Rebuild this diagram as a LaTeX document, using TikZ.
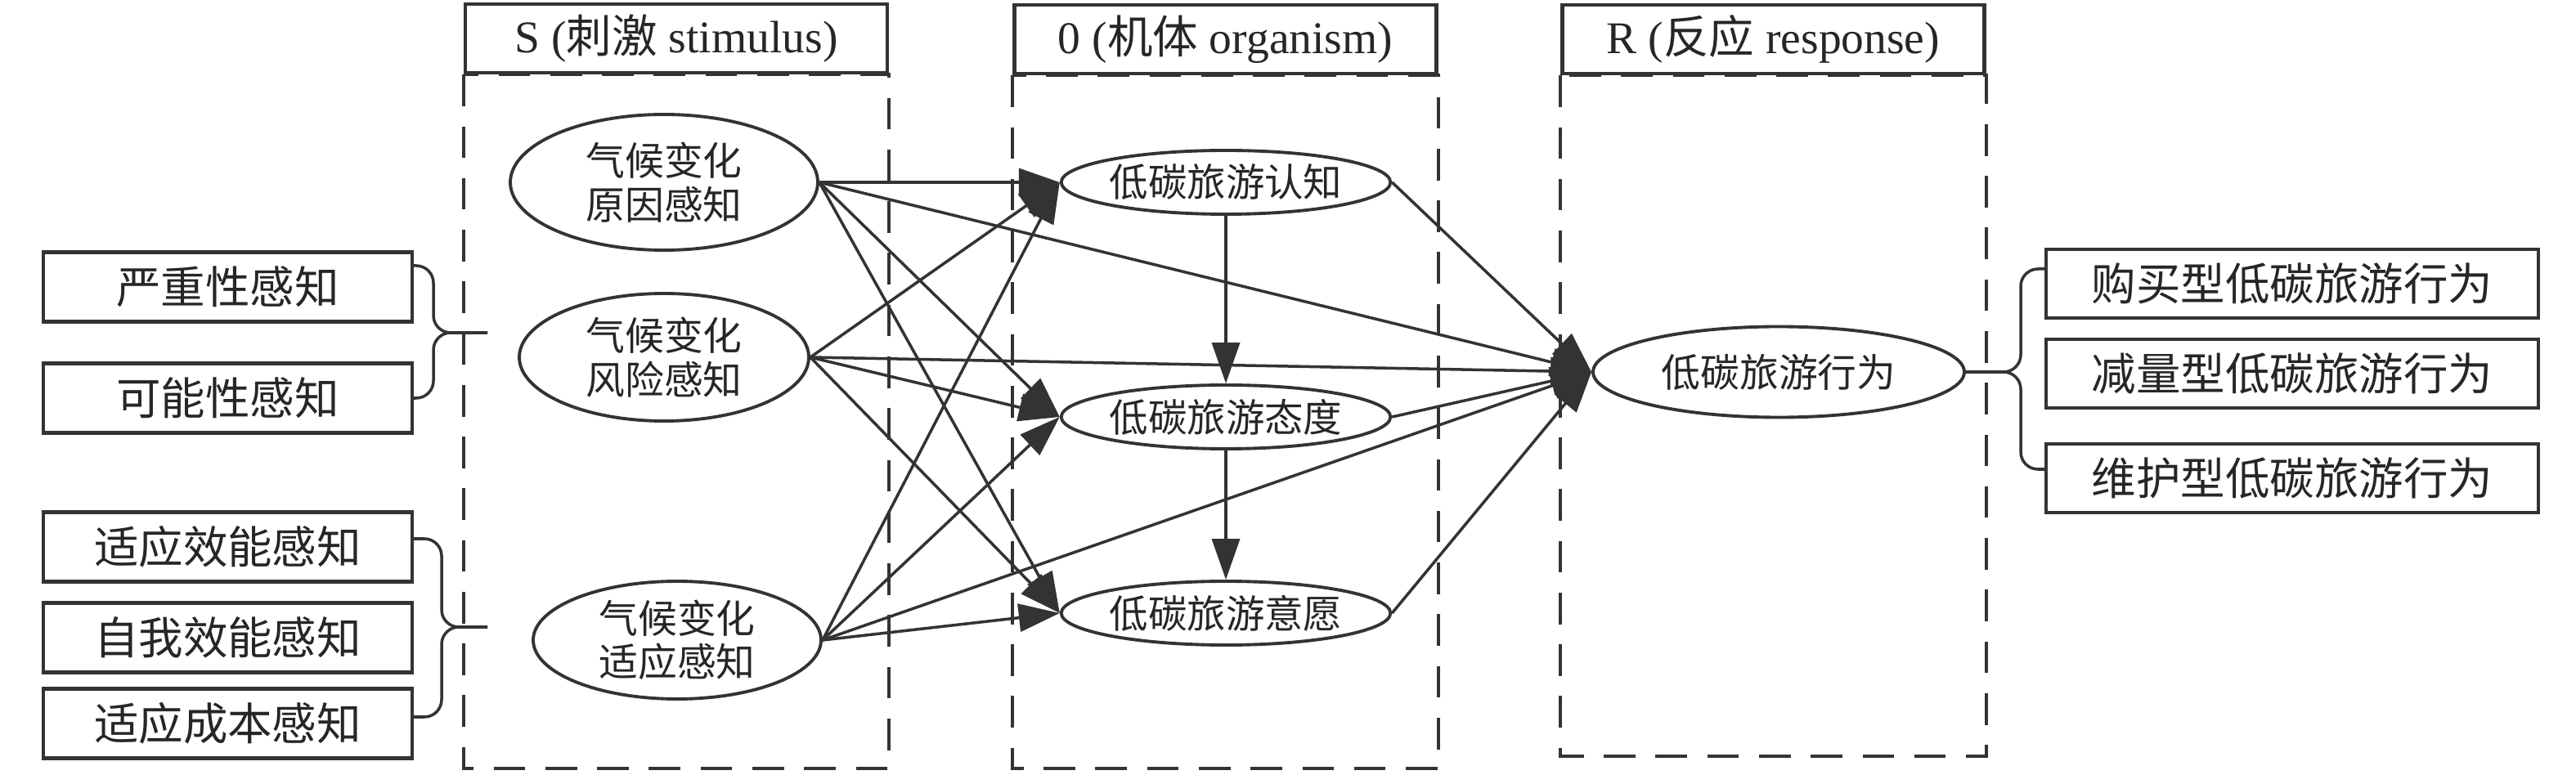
\documentclass[tikz,border=0pt]{standalone}
\usepackage{fontspec}
\setmainfont{Liberation Serif}
\newfontfamily\cjk{Noto Sans CJK SC}
\usetikzlibrary{arrows.meta,shapes.geometric}
\definecolor{ink}{HTML}{333333}
\begin{document}
\begin{tikzpicture}[text=black!85,
        head/.style={draw=ink,line width=1.3pt,minimum width=5.16cm,minimum height=0.84cm,inner sep=0pt,font=\fontsize{15.8}{18}\selectfont},
        col/.style={draw=ink,line width=1.1pt,dash pattern=on 11pt off 7pt},
        lbox/.style={draw=ink,line width=1.2pt,minimum width=4.51cm,minimum height=0.85cm,inner sep=0pt,font=\cjk\fontsize{15.5}{18}\selectfont},
        rbox/.style={lbox,minimum width=6.02cm,minimum height=0.84cm},
        big/.style={ellipse,draw=ink,line width=1.1pt,inner sep=0pt,align=center,font=\cjk\fontsize{13.6}{15.2}\selectfont},
        mid/.style={ellipse,draw=ink,line width=1.1pt,inner sep=0pt,minimum width=3.98cm,minimum height=0.78cm,font=\cjk\fontsize{13.5}{15}\selectfont},
        link/.style={draw=ink,line width=1pt,-{Triangle[length=5mm,width=3.4mm]}},
        curl/.style={draw=ink,line width=1pt,rounded corners=6pt}]
        \useasboundingbox (0,0) rectangle (31.5,-9.48);
        \node[head] (h1) at (8.27,-0.47) {S ({\cjk 刺激} stimulus)};
        \node[head] (h2) at (14.985,-0.48) {0 ({\cjk 机体} organism)};
        \node[head] (h3) at (21.685,-0.48) {R ({\cjk 反应} response)};
        \draw[col] (h1.south west) rectangle (h1.south east |- 0,-9.40);
        \draw[col] (h2.south west) rectangle (h2.south east |- 0,-9.40);
        \draw[col] (h3.south west) rectangle (h3.south east |- 0,-9.25);
        \node[lbox] (l1) at (2.785,-3.51) {严重性感知};
        \node[lbox] (l2) at (2.785,-4.87) {可能性感知};
        \node[lbox] (l3) at (2.785,-6.69) {适应效能感知};
        \node[lbox] (l4) at (2.785,-7.80) {自我效能感知};
        \node[lbox] (l5) at (2.785,-8.85) {适应成本感知};
        \node[big,minimum width=3.76cm,minimum height=1.66cm] (s1) at (8.12,-2.23) {气候变化\\原因感知};
        \node[big,minimum width=3.54cm,minimum height=1.56cm] (s2) at (8.12,-4.37) {气候变化\\风险感知};
        \node[big,minimum width=3.52cm,minimum height=1.44cm] (s3) at (8.28,-7.83) {气候变化\\适应感知};
        \node[mid] (o1) at (14.99,-2.23) {低碳旅游认知};
        \node[mid] (o2) at (14.99,-5.10) {低碳旅游态度};
        \node[mid] (o3) at (14.99,-7.50) {低碳旅游意愿};
        \node[big,minimum width=4.54cm,minimum height=1.11cm] (r) at (21.75,-4.55) {低碳旅游行为};
        \node[rbox] (b1) at (28.03,-3.47) {购买型低碳旅游行为};
        \node[rbox] (b2) at (28.03,-4.57) {减量型低碳旅游行为};
        \node[rbox] (b3) at (28.03,-5.85) {维护型低碳旅游行为};
        \coordinate (bm1) at (5.30,-4.07);
        \coordinate (bt1) at (5.96,-4.07);
        \coordinate (bm2) at (5.40,-7.67);
        \coordinate (bt2) at (5.96,-7.67);
        \coordinate (rm) at (24.71,-4.55);
        \draw[curl] ([yshift=0.26cm]l1.east) -| (bm1) -- (bt1);
        \draw[curl] (l2.east) -| (bm1) -- (bt1);
        \draw[curl] ([yshift=0.1cm]l3.east) -| (bm2) -- (bt2);
        \draw[curl] ([yshift=0.08cm]l5.east) -| (bm2) -- (bt2);
        \draw[curl] ([yshift=0.18cm]b1.west) -| (rm) -- (r.east);
        \draw[curl] ([yshift=0.11cm]b3.west) -| (rm) -- (r.east);
        \draw[link] (s1.east) -- (o1.west);
        \draw[link] (s1.east) -- (o2.west);
        \draw[link] (s1.east) -- (o3.west);
        \draw[link] (s1.east) -- (r.west);
        \draw[link] (s2.east) -- (o1.west);
        \draw[link] (s2.east) -- (o2.west);
        \draw[link] (s2.east) -- (o3.west);
        \draw[link] (s2.east) -- (r.west);
        \draw[link] (s3.east) -- (o1.west);
        \draw[link] (s3.east) -- (o2.west);
        \draw[link] (s3.east) -- (o3.west);
        \draw[link] (s3.east) -- (r.west);
        \draw[link] (o1) -- (o2);
        \draw[link] (o2) -- (o3);
        \draw[link] (o1.east) -- (r.west);
        \draw[link] (o2.east) -- (r.west);
        \draw[link] (o3.east) -- (r.west);
        \end{tikzpicture}
\end{document}
